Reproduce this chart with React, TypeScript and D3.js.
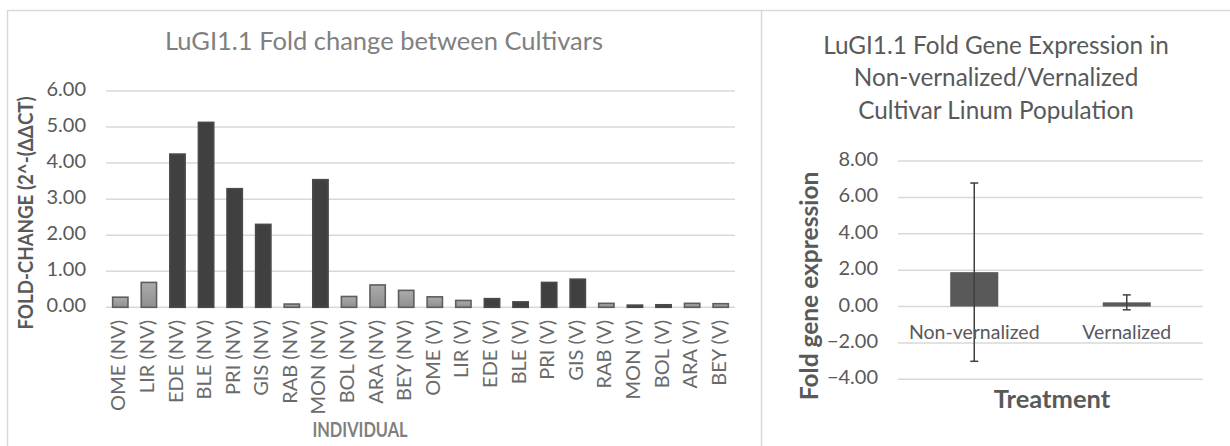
import React from "react";
import * as d3 from "d3";

// Left chart: fold change per cultivar (NV = non-vernalized, V = vernalized)
const individuals = [
  "OME (NV)", "LIR (NV)", "EDE (NV)", "BLE (NV)", "PRI (NV)", "GIS (NV)",
  "RAB (NV)", "MON (NV)", "BOL (NV)", "ARA (NV)", "BEY (NV)",
  "OME (V)", "LIR (V)", "EDE (V)", "BLE (V)", "PRI (V)", "GIS (V)",
  "RAB (V)", "MON (V)", "BOL (V)", "ARA (V)", "BEY (V)",
];
const foldChange = [
  0.28, 0.69, 4.25, 5.13, 3.29, 2.3, 0.09, 3.54, 0.3, 0.62, 0.47,
  0.29, 0.19, 0.24, 0.15, 0.69, 0.78, 0.11, 0.06, 0.07, 0.11, 0.1,
];
const barTone = [
  "light", "light", "dark", "dark", "dark", "dark", "light", "dark", "light", "light", "light",
  "light", "light", "dark", "dark", "dark", "dark", "light", "dark", "dark", "light", "light",
];
const leftTicks = [0, 1, 2, 3, 4, 5, 6];

// Right chart: mean fold gene expression per treatment with error bars
const treatments = ["Non-vernalized", "Vernalized"];
const meanExpression = [1.89, 0.23];
const expressionError = [4.9, 0.41];
const rightTicks = [-4, -2, 0, 2, 4, 6, 8];

const FONT = "Lato, 'Open Sans', sans-serif";
const GRID = "#d9d9d9";
const TEXT = "#595959";

export default function App() {
  // left chart scales
  const xL = d3.scaleBand<string>().domain(individuals).range([106, 735]).paddingInner(0.465).paddingOuter(0.2325);
  const yL = d3.scaleLinear().domain([0, 6]).range([307.3, 91]);

  // right chart scales
  const xR = d3.scaleBand<string>().domain(treatments).range([898, 1203]).paddingInner(0.685).paddingOuter(0.3425);
  const yR = d3.scaleLinear().domain([-4, 8]).range([379.3, 161]);
  const fmt = d3.format(".2f");

  return (
    <svg
      width={1230}
      height={446}
      style={{ position: "absolute", left: 0, top: 0, background: "#fff" }}
      fontFamily={FONT}
    >
      <defs>
        <linearGradient id="lightBar" x1="0" y1="0" x2="0" y2="1">
          <stop offset="0" stopColor="#ababab" />
          <stop offset="1" stopColor="#8f8f8f" />
        </linearGradient>
      </defs>
      <rect width={1230} height={446} fill="#fff" />

      {/* chart frames */}
      <path d="M7.5,446 V10.5 H1230" fill="none" stroke={GRID} strokeWidth={1.5} />
      <path d="M761.5,10.5 V446" fill="none" stroke={GRID} strokeWidth={1.5} />

      {/* ---------- left chart ---------- */}
      <text x={384} y={44} textAnchor="middle" dominantBaseline="middle" fontSize={25.5} fill="#808080">
        LuGI1.1 Fold change between Cultivars
      </text>

      {leftTicks.map((t) => (
        <g key={t}>
          <line x1={106} x2={735} y1={yL(t)} y2={yL(t)} stroke={GRID} strokeWidth={1.5} />
          <text x={86} y={yL(t)} textAnchor="end" dominantBaseline="middle" fontSize={20} fill={TEXT}>
            {fmt(t)}
          </text>
        </g>
      ))}

      {individuals.map((name, i) => {
        const x = xL(name)!;
        const w = xL.bandwidth();
        const y = yL(foldChange[i]);
        const h = yL(0) - y;
        const dark = barTone[i] === "dark";
        return (
          <rect
            key={name}
            x={x}
            y={y}
            width={w}
            height={h}
            fill={dark ? "#404040" : "url(#lightBar)"}
            stroke={dark ? "#4a4a4a" : "#5e5e5e"}
            strokeWidth={1.6}
          />
        );
      })}

      {individuals.map((name) => {
        const cx = xL(name)! + xL.bandwidth() / 2;
        return (
          <text
            key={name}
            transform={`translate(${cx},320) rotate(-90)`}
            textAnchor="end"
            dominantBaseline="middle"
            fontSize={20}
            fill="#6a6a6a"
          >
            {name}
          </text>
        );
      })}

      {/* condensed bold axis titles */}
      <text
        transform="translate(360,432) scale(0.82,1)"
        textAnchor="middle"
        dominantBaseline="middle"
        fontSize={20}
        fontWeight="bold"
        fill="#7f7f7f"
      >
        INDIVIDUAL
      </text>
      <text
        transform="translate(27,213) rotate(-90) scale(0.87,1)"
        textAnchor="middle"
        dominantBaseline="middle"
        fontSize={21.5}
        fontWeight="bold"
        fill={TEXT}
      >
        FOLD-CHANGE (2^-(ΔΔCT)
      </text>

      {/* ---------- right chart ---------- */}
      {["LuGI1.1 Fold Gene Expression in", "Non-vernalized/Vernalized", "Cultivar Linum Population"].map((line, i) => (
        <text key={line} x={996} y={48 + i * 32.3} textAnchor="middle" dominantBaseline="middle" fontSize={24.3} fill={TEXT}>
          {line}
        </text>
      ))}

      {rightTicks.map((t) => (
        <g key={t}>
          <line x1={898} x2={1203} y1={yR(t)} y2={yR(t)} stroke={GRID} strokeWidth={1.5} />
          <text x={878} y={yR(t)} textAnchor="end" dominantBaseline="middle" fontSize={20} fill={TEXT}>
            {fmt(t)}
          </text>
        </g>
      ))}

      {treatments.map((name, i) => {
        const x = xR(name)!;
        const w = xR.bandwidth();
        const cx = x + w / 2;
        const m = meanExpression[i];
        const e = expressionError[i];
        return (
          <g key={name}>
            <rect x={x} y={yR(m)} width={w} height={yR(0) - yR(m)} fill="#595959" />
            <line x1={cx} x2={cx} y1={yR(m + e)} y2={yR(m - e)} stroke="#404040" strokeWidth={1.5} />
            <line x1={cx - 4} x2={cx + 4} y1={yR(m + e)} y2={yR(m + e)} stroke="#404040" strokeWidth={1.5} />
            <line x1={cx - 4} x2={cx + 4} y1={yR(m - e)} y2={yR(m - e)} stroke="#404040" strokeWidth={1.5} />
            <text x={cx} y={334} textAnchor="middle" dominantBaseline="middle" fontSize={19.5} fill={TEXT}>
              {name}
            </text>
          </g>
        );
      })}

      <text x={1052} y={401} textAnchor="middle" dominantBaseline="middle" fontSize={25.5} fontWeight="bold" fill={TEXT}>
        Treatment
      </text>
      <text
        transform="translate(812,286) rotate(-90)"
        textAnchor="middle"
        dominantBaseline="middle"
        fontSize={24.5}
        fontWeight="bold"
        fill={TEXT}
      >
        Fold gene expression
      </text>
    </svg>
  );
}
